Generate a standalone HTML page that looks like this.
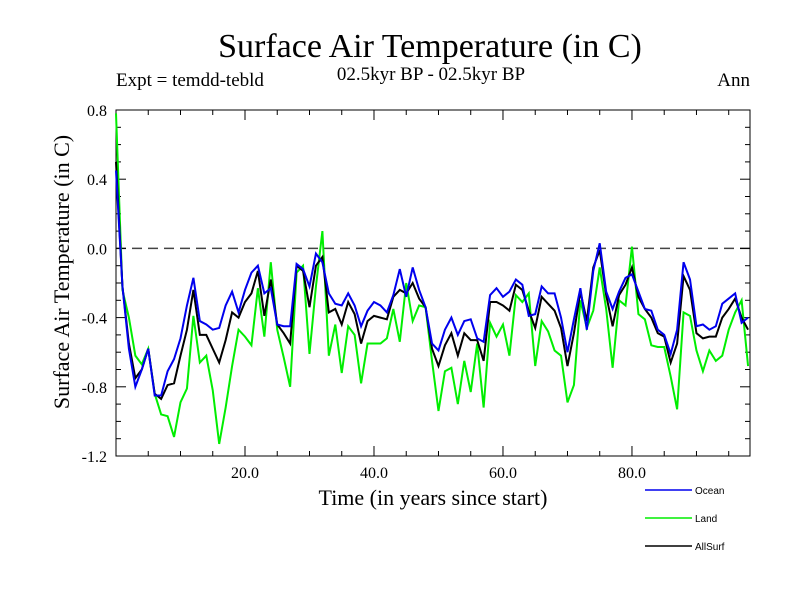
<!DOCTYPE html>
<html><head><meta charset="utf-8"><style>
body{margin:0;background:#fff;}
svg{display:block;font-family:"Liberation Serif",serif;}
</style></head><body>
<svg id="chart" width="800" height="600">
<text x="430" y="57" font-size="34" text-anchor="middle">Surface Air Temperature (in C)</text>
<text x="431" y="80" font-size="19" text-anchor="middle">02.5kyr BP - 02.5kyr BP</text>
<text x="116" y="86" font-size="19">Expt = temdd-tebld</text>
<text x="750" y="86" font-size="19" text-anchor="end">Ann</text>
<text x="433" y="505" font-size="22" text-anchor="middle">Time (in years since start)</text>
<text transform="translate(69,272) rotate(-90)" font-size="22" text-anchor="middle">Surface Air Temperature (in C)</text>
<g id="axes"></g>
<g id="series"></g>
<g id="legend"></g>
</svg>
<script>
const years = Array.from({length:99},(_, i)=>i);
const land = [0.78,-0.24,-0.40,-0.62,-0.67,-0.58,-0.84,-0.96,-0.97,-1.09,-0.89,-0.81,-0.39,-0.66,-0.62,-0.82,-1.13,-0.92,-0.68,-0.47,-0.51,-0.56,-0.23,-0.51,-0.08,-0.47,-0.63,-0.80,-0.14,-0.10,-0.61,-0.22,0.10,-0.62,-0.44,-0.72,-0.45,-0.50,-0.78,-0.55,-0.55,-0.55,-0.52,-0.35,-0.54,-0.20,-0.42,-0.33,-0.34,-0.65,-0.94,-0.71,-0.69,-0.90,-0.65,-0.83,-0.55,-0.92,-0.43,-0.51,-0.44,-0.62,-0.27,-0.31,-0.26,-0.68,-0.42,-0.48,-0.59,-0.62,-0.89,-0.79,-0.30,-0.46,-0.36,-0.11,-0.35,-0.69,-0.30,-0.33,0.01,-0.38,-0.41,-0.56,-0.57,-0.57,-0.74,-0.93,-0.37,-0.39,-0.59,-0.71,-0.59,-0.65,-0.62,-0.47,-0.37,-0.30,-0.68];
const allSurf = [0.50,-0.22,-0.55,-0.75,-0.70,-0.58,-0.84,-0.87,-0.79,-0.78,-0.62,-0.47,-0.24,-0.50,-0.50,-0.58,-0.66,-0.53,-0.37,-0.40,-0.31,-0.26,-0.13,-0.39,-0.18,-0.44,-0.49,-0.55,-0.10,-0.13,-0.34,-0.10,-0.05,-0.37,-0.35,-0.44,-0.31,-0.38,-0.55,-0.42,-0.39,-0.40,-0.41,-0.28,-0.24,-0.26,-0.20,-0.29,-0.34,-0.58,-0.68,-0.56,-0.49,-0.62,-0.49,-0.53,-0.53,-0.65,-0.31,-0.31,-0.33,-0.36,-0.21,-0.24,-0.36,-0.46,-0.28,-0.32,-0.36,-0.46,-0.68,-0.49,-0.25,-0.42,-0.11,-0.01,-0.27,-0.45,-0.27,-0.21,-0.11,-0.28,-0.35,-0.40,-0.49,-0.51,-0.66,-0.55,-0.16,-0.24,-0.49,-0.52,-0.51,-0.51,-0.40,-0.35,-0.29,-0.40,-0.47];
const ocean = [0.45,-0.22,-0.58,-0.80,-0.70,-0.58,-0.85,-0.85,-0.71,-0.64,-0.52,-0.33,-0.17,-0.42,-0.44,-0.47,-0.46,-0.33,-0.25,-0.37,-0.24,-0.14,-0.10,-0.26,-0.23,-0.44,-0.45,-0.45,-0.09,-0.12,-0.22,-0.03,-0.08,-0.26,-0.32,-0.33,-0.26,-0.33,-0.45,-0.36,-0.31,-0.33,-0.37,-0.27,-0.12,-0.28,-0.11,-0.24,-0.34,-0.55,-0.59,-0.47,-0.40,-0.50,-0.42,-0.41,-0.52,-0.54,-0.27,-0.23,-0.28,-0.25,-0.18,-0.21,-0.39,-0.38,-0.22,-0.26,-0.26,-0.40,-0.60,-0.41,-0.23,-0.47,-0.13,0.03,-0.25,-0.35,-0.25,-0.17,-0.15,-0.25,-0.35,-0.36,-0.47,-0.50,-0.61,-0.47,-0.08,-0.18,-0.45,-0.44,-0.47,-0.45,-0.32,-0.29,-0.26,-0.43,-0.40];
const xTickLabels = [20,40,60,80];
const yTickLabels = [0.8,0.4,0.0,-0.4,-0.8,-1.2];

const L=116,R=750,T=110,B=456,X0=0,X1=98.3,Y0=-1.2,Y1=0.8;
const sx=v=>L+(v-X0)/(X1-X0)*(R-L);
const sy=v=>B-(v-Y0)/(Y1-Y0)*(B-T);
const NS="http://www.w3.org/2000/svg";
function mk(tag,attrs,parent){const e=document.createElementNS(NS,tag);for(const k in attrs)e.setAttribute(k,attrs[k]);parent.appendChild(e);return e;}
const axes=document.getElementById('axes');
const z=mk('line',{x1:L,x2:R,y1:sy(0),y2:sy(0),stroke:'#444','stroke-width':1.5,'stroke-dasharray':'10,6'},axes);


for(let v=-12;v<=8;v++){const y=sy(v/10);const len=(v%4===0)?10:5;
 mk('line',{x1:L,x2:L+len,y1:y,y2:y,stroke:'#000'},axes);mk('line',{x1:R,x2:R-len,y1:y,y2:y,stroke:'#000'},axes);}
for(let t=5;t<X1;t+=5){const x=sx(t);const len=(t%20===0)?10:5;
 mk('line',{x1:x,x2:x,y1:B,y2:B-len,stroke:'#000'},axes);mk('line',{x1:x,x2:x,y1:T,y2:T+len,stroke:'#000'},axes);}
yTickLabels.forEach(v=>{const t=mk('text',{x:L-9,y:sy(v)+6,'font-size':16,'text-anchor':'end'},axes);t.textContent=v.toFixed(1);
 
 });
xTickLabels.forEach(v=>{const t=mk('text',{x:sx(v),y:B+22,'font-size':16,'text-anchor':'middle'},axes);t.textContent=v.toFixed(1);
 
 });
const fr=mk('rect',{x:L,y:T,width:R-L,height:B-T,fill:'none',stroke:'#000','stroke-width':1},axes);


const sg=document.getElementById('series');
function draw(data,color,name){const p=mk('polyline',{points:data.map((v,i)=>sx(years[i])+','+sy(v)).join(' '),fill:'none',stroke:color,'stroke-width':2,'stroke-linejoin':'miter'},sg);
 
 }
draw(land,'#00ee00','land-line');
draw(allSurf,'#000000','allsurf-line');
draw(ocean,'#0000ee','ocean-line');
const lg=document.getElementById('legend');
[['Ocean','#0000ee',490],['Land','#00ee00',518],['AllSurf','#000000',546]].forEach(([n,c,y])=>{
 const g=mk('g',{},lg);
 
 
 mk('line',{x1:645,x2:692,y1:y,y2:y,stroke:c,'stroke-width':1.5},g);
 const t=mk('text',{x:695,y:y+4,'font-size':10,'font-family':'Liberation Sans, sans-serif'},g);t.textContent=n;});
</script>
</body></html>
